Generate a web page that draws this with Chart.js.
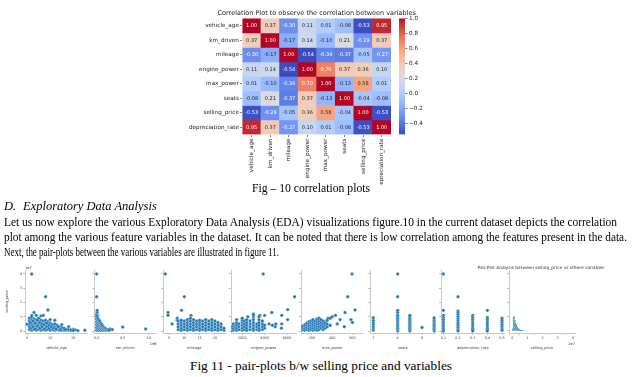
<!DOCTYPE html>
<html><head><meta charset="utf-8">
<script src="https://cdn.jsdelivr.net/npm/chart.js@4.4.1/dist/chart.umd.min.js"></script>
<style>
html,body{margin:0;padding:0;background:#fff;width:644px;height:377px;overflow:hidden;}
body{position:relative;}
canvas{position:absolute;}
.t{position:absolute;font-family:"Liberation Serif","Times New Roman",serif;color:#000;white-space:nowrap;transform-origin:0 0;line-height:1;font-size:12.5px;}
</style></head><body>
<canvas id="hm" width="250" height="185" style="left:180px;top:0px;width:250px;height:185px"></canvas>
<canvas id="cb" width="40" height="185" style="left:395px;top:0px;width:40px;height:185px"></canvas>

<div class="t" style="left:252px;top:181.6px" data-w="118">Fig – 10 correlation plots</div>
<div class="t" style="left:4px;top:199.6px;font-style:italic">D.</div>
<div class="t" style="left:23px;top:199.6px;font-style:italic">Exploratory Data Analysis</div>
<div class="t" style="left:4px;top:215.6px" data-w="613">Let us now explore the various Exploratory Data Analysis (EDA) visualizations figure.10 in the current dataset depicts the correlation</div>
<div class="t" style="left:4px;top:230.6px" data-w="623">plot among the various feature variables in the dataset. It can be noted that there is low correlation among the features present in the data.</div>
<div class="t" style="left:4px;top:245.6px" data-w="275">Next, the pair-plots between the various variables are illustrated in figure 11.</div>
<div class="t" style="left:190px;top:359.3px;font-size:13.5px" data-w="262">Fig 11 - pair-plots b/w selling price and variables</div>

<script>
// ---------- DATA: correlation heatmap ----------
const variables = ['vehicle_age','km_driven','mileage','engine_power','max_power','seats','selling_price','depreciation_rate'];
const corrVehicleAge      = [ 1.00, 0.37,-0.30, 0.11, 0.01,-0.08,-0.53, 0.95];
const corrKmDriven        = [ 0.37, 1.00,-0.17, 0.14,-0.10, 0.21,-0.29, 0.37];
const corrMileage         = [-0.30,-0.17, 1.00,-0.54,-0.34,-0.37,-0.05,-0.27];
const corrEnginePower     = [ 0.11, 0.14,-0.54, 1.00, 0.70, 0.37, 0.36, 0.10];
const corrMaxPower        = [ 0.01,-0.10,-0.34, 0.70, 1.00,-0.13, 0.58, 0.01];
const corrSeats           = [-0.08, 0.21,-0.37, 0.37,-0.13, 1.00,-0.04,-0.08];
const corrSellingPrice    = [-0.53,-0.29,-0.05, 0.36, 0.58,-0.04, 1.00,-0.53];
const corrDepreciation    = [ 0.95, 0.37,-0.27, 0.10, 0.01,-0.08,-0.53, 1.00];
const corrRows = [corrVehicleAge,corrKmDriven,corrMileage,corrEnginePower,corrMaxPower,corrSeats,corrSellingPrice,corrDepreciation];
const colorbarTicks = [-0.4,-0.2,0.0,0.2,0.4,0.6,0.8,1.0];

// ---------- DATA: pair plots (x value, selling_price in units of 1e7) ----------
const vehicleAgePts = [[2,4.0],[8,2.4],[3,1.3],[9,1.47],[4,1.1],[2,1.1],[10,0.8],[0,0.47],[25,0.05],[6,1.05],[7,1.1],[12,0.75],[15,0.45],[18,0.3],[20,0.12],[21,0.08],
[1,0.1],[1,0.3],[1,0.5],[1,0.7],[1,0.9],[2,0.05],[2,0.2],[2,0.4],[2,0.6],[2,0.8],[2,1.0],[3,0.1],[3,0.3],[3,0.5],[3,0.7],[3,0.85],
[4,0.05],[4,0.2],[4,0.4],[4,0.6],[4,0.8],[5,0.1],[5,0.3],[5,0.5],[5,0.7],[5,0.9],[6,0.05],[6,0.2],[6,0.4],[6,0.6],[6,0.75],
[7,0.1],[7,0.3],[7,0.5],[7,0.7],[8,0.05],[8,0.2],[8,0.4],[8,0.6],[8,0.75],[9,0.1],[9,0.3],[9,0.5],[9,0.65],[10,0.05],[10,0.2],[10,0.4],[10,0.55],
[11,0.1],[11,0.3],[11,0.45],[12,0.05],[12,0.2],[12,0.35],[12,0.5],[13,0.1],[13,0.25],[13,0.4],[14,0.05],[14,0.2],[14,0.3],
[15,0.05],[15,0.15],[15,0.25],[16,0.05],[16,0.15],[16,0.2],[17,0.05],[17,0.12],[18,0.05],[18,0.1],[19,0.03],[19,0.08],[20,0.04],[22,0.03],
[1.5,0.2],[1.5,0.6],[2.5,0.3],[2.5,0.7],[3.5,0.15],[3.5,0.55],[4.5,0.35],[4.5,0.75],[5.5,0.2],[5.5,0.6],[6.5,0.3],[6.5,0.5],[7.5,0.15],[7.5,0.45],
[8.5,0.3],[8.5,0.55],[9.5,0.2],[9.5,0.4],[10.5,0.3],[11.5,0.2],[12.5,0.15],[13.5,0.3],[14.5,0.1],[16.5,0.1]];
const kmDrivenPts = [[0,4.0],[0,2.4],[0.01,1.45],[0.01,1.3],[0,1.15],[0.02,1.05],[0.5,0.28],[0.94,0.14],[0.26,0.14],[0.3,0.1],
[0,0.05],[0,0.25],[0,0.45],[0,0.65],[0,0.85],[0,1.0],[0.02,0.1],[0.02,0.3],[0.02,0.5],[0.02,0.7],[0.02,0.9],
[0.04,0.05],[0.04,0.2],[0.04,0.4],[0.04,0.6],[0.04,0.8],[0.06,0.1],[0.06,0.3],[0.06,0.5],[0.06,0.7],
[0.08,0.05],[0.08,0.2],[0.08,0.4],[0.08,0.55],[0.1,0.1],[0.1,0.3],[0.1,0.45],[0.12,0.05],[0.12,0.2],[0.12,0.35],
[0.14,0.1],[0.14,0.25],[0.16,0.05],[0.16,0.2],[0.18,0.1],[0.18,0.15],[0.2,0.05],[0.22,0.1],[0.24,0.05]];
const mileagePts = [[3.8,4.0],[10,2.4],[9.1,1.45],[4.7,1.3],[4.7,1.1],[6,0.5],[12.2,1.1],[7.7,0.9],[7.7,0.75],
[8,0.1],[8,0.3],[8,0.5],[8,0.7],[9,0.05],[9,0.2],[9,0.4],[9,0.6],[9,0.75],[10,0.1],[10,0.3],[10,0.5],[10,0.7],
[11,0.05],[11,0.2],[11,0.4],[11,0.6],[11,0.8],[12,0.1],[12,0.3],[12,0.5],[12,0.7],[12,0.9],[13,0.05],[13,0.2],[13,0.4],[13,0.6],[13,0.8],
[14,0.1],[14,0.3],[14,0.5],[14,0.7],[15,0.05],[15,0.2],[15,0.4],[15,0.6],[15,0.75],[16,0.1],[16,0.3],[16,0.5],[16,0.7],
[17,0.05],[17,0.2],[17,0.4],[17,0.6],[17,0.8],[18,0.1],[18,0.3],[18,0.5],[18,0.7],[19,0.05],[19,0.2],[19,0.4],[19,0.6],[19,0.8],
[20,0.1],[20,0.3],[20,0.5],[20,0.7],[21,0.05],[21,0.2],[21,0.4],[21,0.6],[22,0.1],[22,0.3],[22,0.5],[23,0.05],[23,0.2]];
const enginePowerPts = [[3870,4.0],[6680,2.4],[6060,1.5],[4640,1.3],[5530,1.1],[6060,0.8],[5530,0.5],[5500,0.2],[3570,1.1],[4000,1.1],[2990,1.2],[2500,1.0],[4950,0.3],[4400,0.5],[4700,0.4],[5000,0.5],
[800,0.05],[800,0.15],[1000,0.05],[1000,0.2],[1000,0.3],[1200,0.05],[1200,0.2],[1200,0.35],[1200,0.5],[1400,0.1],[1400,0.3],[1400,0.5],
[1500,0.05],[1500,0.2],[1500,0.4],[1500,0.6],[1500,0.8],[1700,0.1],[1700,0.3],[1700,0.5],[2000,0.05],[2000,0.2],[2000,0.4],[2000,0.6],[2000,0.75],[2000,0.9],
[2200,0.1],[2200,0.3],[2200,0.5],[2200,0.7],[2400,0.05],[2400,0.2],[2400,0.4],[2400,0.6],[2400,0.8],[2700,0.1],[2700,0.3],[2700,0.5],[2700,0.7],
[3000,0.05],[3000,0.2],[3000,0.4],[3000,0.6],[3000,0.8],[3000,1.0],[3000,1.15],[3300,0.1],[3300,0.3],[3300,0.5],
[3500,0.05],[3500,0.2],[3500,0.4],[3500,0.6],[3500,0.8],[3500,1.0],[3800,0.1],[3800,0.3],[3800,0.5],[3800,0.7],[4000,0.2],[4000,0.4]];
const maxPowerPts = [[596,4.0],[554,2.4],[626,1.47],[527,1.3],[433,1.1],[478,0.8],[586,0.8],[400,1.0],[360,0.9],[520,0.3],[600,0.6],[450,0.5],
[70,0.05],[70,0.15],[90,0.05],[90,0.2],[90,0.3],[110,0.1],[110,0.25],[110,0.35],[130,0.05],[130,0.2],[130,0.35],[130,0.45],
[150,0.1],[150,0.25],[150,0.4],[150,0.55],[170,0.05],[170,0.2],[170,0.35],[170,0.5],[170,0.65],[190,0.1],[190,0.25],[190,0.4],[190,0.55],[190,0.7],
[210,0.05],[210,0.2],[210,0.35],[210,0.5],[210,0.65],[210,0.8],[230,0.1],[230,0.25],[230,0.4],[230,0.55],[230,0.7],
[250,0.05],[250,0.2],[250,0.35],[250,0.5],[250,0.65],[250,0.85],[270,0.1],[270,0.3],[270,0.5],[270,0.7],[270,0.9],
[290,0.2],[290,0.4],[290,0.6],[290,0.8],[310,0.1],[310,0.3],[310,0.5],[310,0.7],[330,0.2],[330,0.4],[330,0.6],[350,0.3],[350,0.5],[350,0.75],[380,0.4],[380,0.9]];
const seatsPts = [[2,0.05],[2,0.15],[2,0.3],[2,0.45],[2,0.6],[2,0.75],[2,0.93],
[4,0],[4,0.1],[4,0.2],[4,0.3],[4,0.4],[4,0.5],[4,0.6],[4,0.7],[4,0.8],[4,0.9],[4,1.0],[4,1.1],[4,1.3],[4,1.45],[4,2.4],[4,4.0],
[5,0],[5,0.1],[5,0.2],[5,0.3],[5,0.4],[5,0.5],[5,0.6],[5,0.7],[5,0.8],[5,0.9],[5,1.0],[5,1.1],
[6,0.25],[7,0],[7,0.1],[7,0.2],[7,0.3],[7,0.4],[7,0.5],[7,0.6],[7,0.7],[7,0.8],[7,0.93]];
const depreciationPts = [[0.1,4.0],[0.1,1.45],[0.1,1.1],[0.1,0.95],[0.1,0.8],[0.1,0.65],[0.1,0.5],[0.1,0.35],[0.1,0.2],[0.1,0.1],[0.1,0],
[0.2,2.4],[0.2,1.4],[0.2,1.3],[0.2,1.15],[0.2,1.0],[0.2,0.85],[0.2,0.7],[0.2,0.55],[0.2,0.4],[0.2,0.25],[0.2,0.1],[0.2,0],
[0.3,1.1],[0.3,0.95],[0.3,0.8],[0.3,0.65],[0.3,0.5],[0.3,0.35],[0.3,0.2],[0.3,0.1],[0.3,0],
[0.4,1.45],[0.4,0.95],[0.4,0.8],[0.4,0.65],[0.4,0.5],[0.4,0.35],[0.4,0.2],[0.4,0.1],[0.4,0],
[0.5,0.9],[0.5,0.75],[0.5,0.6],[0.5,0.45],[0.5,0.3],[0.5,0.15],[0.5,0.05]];
// histogram of selling_price (bin centres in 1e7, counts)
const priceBinCentres = [0.025,0.075,0.125,0.175,0.225,0.275,0.325,0.375,0.425,0.475,0.525,0.575,0.625,0.675,0.725,0.775,0.825,0.875,0.925,0.975];
const priceBinCounts  = [150,950,1000,750,550,400,300,200,150,100,70,50,40,30,20,20,10,10,10,10];

// ---------- colormap (coolwarm) ----------
const CW=[[59,76,192],[68,90,204],[77,104,215],[87,117,225],[98,130,234],[108,142,241],[119,154,247],[130,165,251],[141,176,254],[152,185,255],[163,194,255],[174,201,253],[184,208,249],[194,213,244],[204,217,238],[213,219,230],[221,221,221],[229,216,209],[236,211,197],[241,204,184],[245,196,172],[247,187,159],[247,177,147],[247,166,134],[244,154,123],[241,141,111],[236,127,99],[229,112,88],[222,96,77],[213,80,66],[203,62,56],[192,40,47],[180,4,38]];
let vmin=Infinity,vmax=-Infinity;corrRows.forEach(r=>r.forEach(v=>{vmin=Math.min(vmin,v);vmax=Math.max(vmax,v);}));
function cwRGB(v){let t=(v-vmin)/(vmax-vmin);t=Math.max(0,Math.min(1,t));const f=t*32,i=Math.min(31,Math.floor(f)),r=f-i;return CW[i].map((c,k)=>Math.round(c+(CW[i+1][k]-c)*r));}
function rgbStr(a){return 'rgb('+a.join(',')+')';}
function lum(a){const l=a.map(c=>{c/=255;return c<=0.03928?c/12.92:Math.pow((c+0.055)/1.055,2.4);});return 0.2126*l[0]+0.7152*l[1]+0.0722*l[2];}

const SANS='"DejaVu Sans", sans-serif';
Chart.defaults.font.family=SANS;
Chart.defaults.animation=false;
Chart.defaults.responsive=false;
Chart.defaults.plugins.legend.display=false;
Chart.defaults.plugins.tooltip.enabled=false;

// ---------- heatmap ----------
const cellText={id:'cellText',afterDatasetsDraw(chart){const c=chart.ctx;c.save();c.font='5px '+SANS;c.textAlign='center';c.textBaseline='middle';
 chart.data.datasets.forEach((ds,i)=>{chart.getDatasetMeta(i).data.forEach((el,j)=>{const v=ds.corr[j];const rgb=cwRGB(v);c.fillStyle=lum(rgb)<0.408?'#fff':'#262626';c.fillText(v.toFixed(2),el.x,(el.y+el.base)/2+0.3);});});c.restore();}};
const hmTitle={id:'hmTitle',afterDraw(chart){const c=chart.ctx,a=chart.chartArea;c.save();c.font='6.5px '+SANS;c.fillStyle='#1a1a1a';c.textAlign='center';c.textBaseline='middle';c.fillText('Correlation Plot to observe the correlation between variables',(a.left+a.right)/2,13.5);c.restore();}};
new Chart(document.getElementById('hm'),{type:'bar',
 data:{labels:variables,datasets:corrRows.map((row,i)=>({label:variables[i],corr:row,data:row.map(()=>1),backgroundColor:row.map(v=>rgbStr(cwRGB(v))),borderWidth:0,barPercentage:1,categoryPercentage:1}))},
 options:{layout:{padding:{top:18.4,right:39,left:0,bottom:0}},
  scales:{
   x:{stacked:true,offset:true,grid:{offset:false,drawOnChartArea:false,tickLength:2.5,color:'#333',lineWidth:0.6},border:{display:false},
      ticks:{font:{size:5.7},color:'#1a1a1a',maxRotation:90,minRotation:90,padding:1.5,autoSkip:false},afterFit:a=>{a.height=50.5;}},
   y:{stacked:true,min:0,max:8,reverse:true,grid:{drawOnChartArea:false,tickLength:2.5,color:'#333',lineWidth:0.6},border:{display:false},
      afterBuildTicks:a=>{a.ticks=variables.map((v,i)=>({value:i+0.5}));},
      ticks:{font:{size:5.7},color:'#1a1a1a',padding:1,autoSkip:false,callback:v=>variables[Math.floor(v)]},afterFit:a=>{a.width=62.4;}}}},
 plugins:[cellText,hmTitle]});

// ---------- colorbar ----------
new Chart(document.getElementById('cb'),{type:'bar',
 data:{labels:['c'],datasets:[{data:[[vmin,vmax]],borderWidth:0,barPercentage:1,categoryPercentage:1,
  backgroundColor:(ctx)=>{const ch=ctx.chart;if(!ch.chartArea)return '#ddd';const y=ch.scales.y;const g=ch.ctx.createLinearGradient(0,y.getPixelForValue(vmin),0,y.getPixelForValue(vmax));CW.forEach((c,i)=>g.addColorStop(i/32,rgbStr(c)));return g;}}]},
 options:{layout:{padding:{top:18.4,left:4,right:0,bottom:50.5}},
  scales:{x:{display:false},
   y:{position:'right',min:vmin,max:vmax,grid:{drawOnChartArea:false,tickLength:2.5,color:'#333',lineWidth:0.6},border:{display:false},
      afterBuildTicks:a=>{a.ticks=colorbarTicks.map(v=>({value:v}));},
      ticks:{font:{size:5.7},color:'#1a1a1a',padding:1.5,callback:v=>(v<0?'\u2212':'')+Math.abs(v).toFixed(1)},afterFit:a=>{a.width=30;}}}}});

// ---------- pair plots ----------
const panels=[
 {name:'vehicle_age',pts:vehicleAgePts,left:25,right:88,min:-0.9,max:26.2,ticks:[0,10,20],fmt:v=>String(v)},
 {name:'km_driven',pts:kmDrivenPts,left:94,right:157,min:-0.05,max:1.15,ticks:[0,0.5,1.0],fmt:v=>v.toFixed(1),offset:'1e6'},
 {name:'mileage',pts:mileagePts,left:163,right:226,min:3.05,max:23.5,ticks:[5,10,15,20],fmt:v=>String(v)},
 {name:'engine_power',pts:enginePowerPts,left:231,right:297,min:996,max:6862,ticks:[2000,4000,6000],fmt:v=>String(v)},
 {name:'max_power',pts:maxPowerPts,left:301,right:364,min:92,max:711,ticks:[200,400,600],fmt:v=>String(v)},
 {name:'seats',pts:seatsPts,left:370,right:436,min:1.73,max:7.12,ticks:[2,4,6],fmt:v=>String(v)},
 {name:'depreciation_rate',pts:depreciationPts,left:441,right:505,min:0.084,max:0.518,ticks:[0.1,0.2,0.3,0.4,0.5],fmt:v=>v.toFixed(1)},
 {name:'selling_price',hist:true,left:509,right:575,min:-0.22,max:4.15,ticks:[0,1,2,3,4],fmt:v=>String(v),offset:'1e7'}
];
const TOP=262,H=88,AREA_TOP=270,AREA_BOT=333;
panels.forEach((p,idx)=>{
 const first=idx===0;
 const yw=first?20:(p.hist?49:10);
 const cl=p.left-yw, cw=(p.right-cl)+(p.hist?48:4);
 const cv=document.createElement('canvas');cv.width=cw;cv.height=H;cv.style.left=cl+'px';cv.style.top=TOP+'px';cv.style.width=cw+'px';cv.style.height=H+'px';document.body.appendChild(cv);
 const extra={id:'extra'+idx,afterDraw(chart){const c=chart.ctx,a=chart.chartArea;c.save();c.fillStyle='#333';c.font='3.6px '+SANS;
   if(first){c.textAlign='left';c.textBaseline='bottom';c.fillText('1e7',a.left,a.top-0.5);}
   if(p.offset){c.textAlign='right';c.textBaseline='middle';c.fillText(p.offset,a.right,a.bottom+11);}
   if(p.hist){c.font='4.3px '+SANS;c.textAlign='center';c.textBaseline='middle';c.fillText('Pair-Plot Analysis between selling_price vs othere variables',541-cl,268-TOP);}
   c.restore();}};
 const xScale={type:'linear',min:p.min,max:p.max,offset:false,grid:{drawOnChartArea:false,tickLength:1.8,color:'#888',lineWidth:0.6},border:{color:'#bbb',width:0.8},
   afterBuildTicks:a=>{a.ticks=p.ticks.map(v=>({value:v}));},
   ticks:{font:{size:3.4},color:'#444',padding:0.8,maxRotation:0,autoSkip:false,callback:p.fmt},
   title:{display:true,text:p.name,font:{size:3.6},color:'#444',padding:{top:1.2,bottom:0}},afterFit:a=>{a.height=H-AREA_BOT+TOP;}};
 let cfg;
 if(!p.hist){
  cfg={type:'scatter',data:{datasets:[{data:p.pts.map(q=>({x:q[0],y:q[1]})),pointRadius:1.7,backgroundColor:'#1f77b4',borderColor:'rgba(255,255,255,0.8)',borderWidth:0.35}]},
   options:{layout:{padding:{top:AREA_TOP-TOP,right:4,left:0,bottom:0}},
    scales:{x:xScale,
     y:{min:-0.14,max:4.28,grid:{drawOnChartArea:false,tickLength:1.8,color:'#888',lineWidth:0.6},border:{color:'#bbb',width:0.8},
       afterBuildTicks:a=>{a.ticks=[0,1,2,3,4].map(v=>({value:v}));},
       ticks:{display:first,font:{size:3.4},color:'#444',padding:1},
       title:{display:first,text:'selling_price',font:{size:3.6},color:'#444',padding:{top:0,bottom:1.5}},
       afterFit:a=>{a.width=yw;}}}},plugins:[extra]};
 } else {
  cfg={type:'bar',data:{datasets:[{data:priceBinCentres.map((c,i)=>({x:c,y:priceBinCounts[i]})),backgroundColor:'rgba(31,119,180,0.55)',borderColor:'rgba(31,119,180,0.85)',borderWidth:0.4,barPercentage:1,categoryPercentage:1}]},
   options:{layout:{padding:{top:AREA_TOP-TOP,right:48,left:0,bottom:0}},
    scales:{x:xScale,
     y:{min:-140,max:4266,grid:{drawOnChartArea:false,tickLength:1.8,color:'#888',lineWidth:0.6},border:{color:'#bbb',width:0.8},
       afterBuildTicks:a=>{a.ticks=[0,1000,2000,3000,4000].map(v=>({value:v}));},
       ticks:{display:false},afterFit:a=>{a.width=yw;}}}},plugins:[extra]};
 }
 new Chart(cv,cfg);
});

// ---------- fit text line widths ----------
document.querySelectorAll('.t[data-w]').forEach(el=>{const w=el.getBoundingClientRect().width;const s=(+el.dataset.w)/w;el.style.transform='scaleX('+s+')';});
</script>
</body></html>
